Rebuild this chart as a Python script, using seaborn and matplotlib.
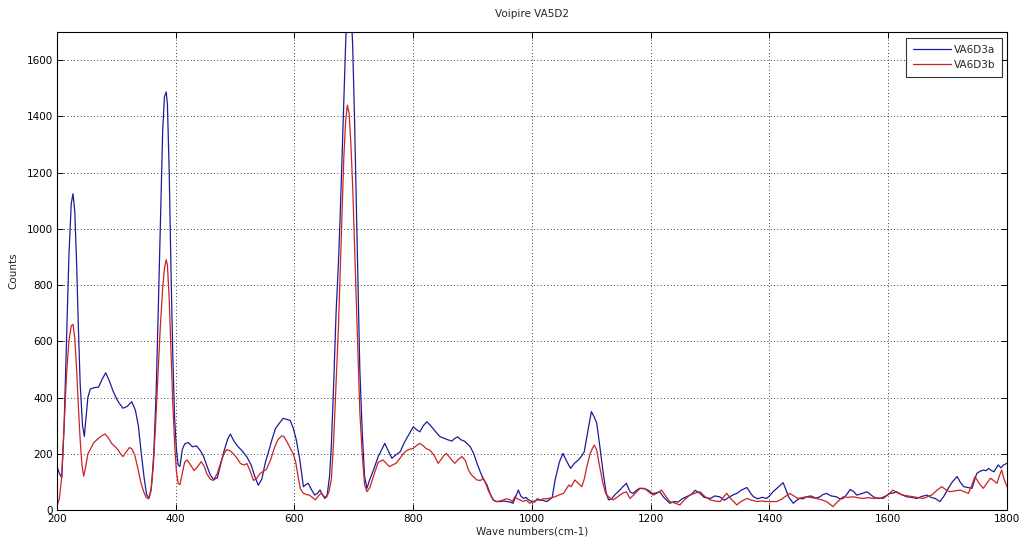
import numpy as np
import pandas as pd
import matplotlib
matplotlib.use("Agg")
import matplotlib.pyplot as plt
import seaborn as sns

# Raman spectra: wave number (cm-1) and counts for the two measurements
va6d3a_wave = [
    200, 204, 208, 212, 216, 220, 224, 227, 230, 233, 236, 239, 243, 246, 249, 252, 256, 262, 270, 276,
    282, 288, 295, 303, 311, 318, 326, 332, 337, 342, 347, 351, 355, 359, 363, 367, 371, 375, 378, 381,
    384, 386, 389, 392, 395, 398, 401, 404, 407, 411, 415, 421, 428, 435, 441, 446, 452, 458, 464, 470,
    476, 482, 488, 492, 498, 505, 512, 520, 527, 533, 539, 545, 551, 556, 562, 568, 575, 581, 587, 593,
    598, 603, 609, 615, 619, 623, 629, 634, 639, 643, 647, 651, 655, 659, 662, 666, 670, 674, 677, 680,
    683, 686, 689, 692, 695, 698, 701, 704, 707, 710, 714, 718, 722, 727, 733, 741, 747, 752, 758, 764,
    770, 778, 785, 793, 800, 806, 811, 817, 823, 830, 837, 845, 852, 858, 865, 870, 875, 880, 886, 890,
    896, 902, 907, 913, 918, 924, 930, 935, 940, 946, 952, 957, 963, 968, 973, 977, 981, 986, 990, 994,
    1000, 1004, 1009, 1013, 1019, 1025, 1030, 1034, 1039, 1046, 1052, 1058, 1065, 1071, 1078, 1083, 1088, 1094, 1100, 1105,
    1109, 1114, 1120, 1125, 1129, 1134, 1140, 1148, 1154, 1159, 1165, 1170, 1176, 1181, 1190, 1196, 1202, 1208, 1215, 1222,
    1232, 1240, 1246, 1253, 1260, 1268, 1275, 1283, 1290, 1300, 1308, 1316, 1324, 1333, 1340, 1345, 1352, 1362, 1368, 1373,
    1380, 1388, 1395, 1400, 1406, 1414, 1423, 1428, 1432, 1440, 1446, 1451, 1457, 1462, 1470, 1478, 1485, 1490, 1496, 1504,
    1513, 1518, 1524, 1530, 1536, 1542, 1547, 1555, 1564, 1570, 1575, 1580, 1586, 1594, 1603, 1608, 1614, 1622, 1631, 1640,
    1648, 1656, 1665, 1672, 1679, 1687, 1694, 1701, 1708, 1716, 1721, 1727, 1734, 1741, 1749, 1755, 1760, 1765, 1769, 1774,
    1778, 1785, 1790, 1794, 1800,
]
va6d3a_counts = [
    155, 130, 115, 300, 600, 900, 1090, 1125, 1060, 880, 650, 450, 300, 262, 330, 400, 430, 435, 437, 465,
    488, 460, 420, 385, 362, 368, 385, 355, 300, 200, 110, 55, 42, 80, 200, 420, 750, 1100, 1350, 1470,
    1487, 1440, 1200, 850, 550, 330, 220, 160, 155, 215, 235, 240, 225, 228, 212, 195, 160, 125, 108, 115,
    165, 215, 255, 270, 245, 225, 210, 188, 160, 120, 88, 110, 170, 205, 250, 290, 310, 326, 322, 318,
    290, 250, 178, 83, 90, 95, 71, 53, 60, 71, 55, 41, 53, 120, 225, 450, 700, 880, 1050, 1250,
    1450, 1650, 1820, 1860, 1800, 1650, 1400, 1100, 800, 500, 280, 120, 77, 110, 142, 190, 215, 237, 210, 184,
    195, 207, 240, 270, 296, 285, 278, 300, 314, 298, 280, 261, 255, 250, 245, 255, 260, 250, 245, 238,
    225, 200, 168, 135, 110, 90, 55, 35, 30, 30, 32, 30, 28, 24, 50, 71, 50, 41, 45, 36,
    30, 28, 40, 36, 34, 30, 38, 45, 107, 170, 201, 175, 148, 165, 178, 190, 207, 280, 350, 330,
    309, 230, 130, 60, 36, 40, 55, 71, 85, 95, 65, 59, 70, 77, 75, 70, 59, 60, 65, 45,
    24, 30, 28, 40, 47, 55, 70, 59, 45, 41, 50, 47, 35, 47, 55, 59, 70, 80, 60, 47,
    40, 45, 41, 50, 65, 80, 97, 70, 47, 24, 35, 41, 40, 47, 50, 42, 47, 55, 59, 50,
    47, 40, 41, 55, 73, 65, 53, 58, 65, 55, 47, 42, 41, 48, 59, 60, 65, 55, 47, 45,
    41, 48, 53, 45, 41, 30, 50, 77, 100, 119, 100, 83, 80, 77, 130, 138, 142, 140, 148, 140,
    136, 160, 150, 160, 166,
]

va6d3b_wave = [
    200, 204, 208, 212, 216, 220, 224, 227, 230, 233, 236, 239, 242, 245, 248, 252, 256, 262, 270, 276,
    281, 286, 292, 298, 303, 307, 311, 316, 322, 326, 331, 336, 341, 346, 350, 354, 358, 362, 366, 370,
    374, 378, 381, 384, 386, 389, 392, 395, 398, 401, 404, 407, 411, 415, 419, 425, 431, 437, 443, 448,
    452, 458, 463, 470, 476, 481, 486, 492, 497, 503, 509, 515, 520, 525, 531, 537, 542, 548, 553, 560,
    566, 572, 578, 582, 588, 594, 598, 602, 606, 610, 615, 620, 625, 630, 635, 640, 645, 650, 654, 658,
    662, 666, 670, 674, 677, 680, 683, 686, 689, 692, 695, 698, 701, 704, 707, 710, 714, 718, 722, 727,
    733, 741, 749, 755, 760, 765, 771, 778, 785, 792, 800, 806, 811, 817, 822, 828, 835, 842, 847, 852,
    856, 862, 866, 870, 876, 882, 888, 893, 898, 903, 907, 913, 918, 922, 926, 931, 935, 940, 946, 952,
    957, 963, 967, 971, 975, 980, 985, 990, 996, 1002, 1008, 1013, 1019, 1025, 1030, 1036, 1042, 1047, 1053, 1058,
    1062, 1066, 1072, 1078, 1084, 1088, 1093, 1098, 1102, 1105, 1109, 1114, 1119, 1124, 1130, 1137, 1143, 1148, 1153, 1159,
    1165, 1172, 1182, 1190, 1196, 1204, 1211, 1218, 1225, 1232, 1240, 1249, 1256, 1266, 1275, 1283, 1290, 1300, 1308, 1317,
    1322, 1328, 1335, 1345, 1352, 1362, 1370, 1379, 1387, 1395, 1404, 1412, 1420, 1428, 1434, 1441, 1448, 1455, 1462, 1470,
    1479, 1488, 1496, 1502, 1507, 1515, 1524, 1532, 1541, 1550, 1558, 1566, 1575, 1584, 1592, 1600, 1608, 1616, 1625, 1634,
    1642, 1650, 1659, 1666, 1673, 1682, 1690, 1697, 1704, 1712, 1721, 1728, 1735, 1741, 1746, 1753, 1760, 1766, 1772, 1778,
    1783, 1787, 1791, 1795, 1800,
]
va6d3b_counts = [
    15, 40, 120, 300, 480, 600, 655, 660, 610, 500, 370, 250, 160, 120, 150, 200, 215, 240, 255, 265,
    270, 258, 237, 225, 213, 200, 190, 205, 222, 218, 195, 150, 100, 65, 45, 40, 65, 150, 300, 480,
    650, 790, 860, 890, 870, 750, 560, 380, 240, 140, 95, 90, 130, 170, 178, 160, 140, 155, 172, 155,
    130, 110, 105, 130, 170, 200, 215, 210, 200, 185, 165, 160, 165, 140, 105, 115, 130, 138, 145, 180,
    220, 250, 263, 262, 240, 215, 200, 170, 120, 75, 59, 55, 53, 45, 36, 50, 60, 48, 45, 65,
    107, 250, 450, 650, 850, 1050, 1250, 1380, 1440, 1410, 1300, 1150, 950, 750, 550, 350, 200, 90, 65, 80,
    120, 170, 178, 165, 154, 160, 166, 185, 205, 215, 219, 230, 237, 228, 218, 213, 195, 166, 180, 195,
    201, 185, 175, 166, 180, 190, 175, 142, 125, 115, 107, 105, 113, 95, 71, 50, 35, 30, 32, 36,
    40, 36, 30, 47, 40, 36, 30, 35, 24, 30, 36, 34, 40, 40, 42, 45, 50, 55, 59, 75,
    89, 83, 107, 95, 83, 110, 160, 201, 220, 231, 213, 154, 100, 59, 45, 36, 45, 53, 60, 65,
    41, 55, 77, 77, 65, 53, 60, 71, 50, 30, 25, 18, 35, 53, 60, 65, 50, 36, 32, 30,
    45, 59, 40, 18, 30, 41, 35, 30, 32, 30, 30, 30, 38, 50, 59, 50, 41, 44, 47, 44,
    41, 36, 30, 20, 12, 30, 47, 45, 47, 43, 41, 44, 41, 43, 41, 55, 71, 60, 53, 50,
    47, 44, 41, 47, 53, 70, 83, 72, 65, 68, 71, 65, 59, 90, 119, 95, 77, 95, 113, 104,
    95, 120, 142, 110, 83,
]

series_names = ["VA6D3a", "VA6D3b"]
line_colors = ["#1c1c9a", "#cc2222"]
x_ticks = [200, 400, 600, 800, 1000, 1200, 1400, 1600, 1800]
y_ticks = [0, 200, 400, 600, 800, 1000, 1200, 1400, 1600]

df = pd.concat([
    pd.DataFrame({"wave": va6d3a_wave, "counts": va6d3a_counts, "series": series_names[0]}),
    pd.DataFrame({"wave": va6d3b_wave, "counts": va6d3b_counts, "series": series_names[1]}),
], ignore_index=True)

sns.set_theme(style="white")
plt.rcParams["font.family"] = ["DejaVu Sans"]

fig = plt.figure(figsize=(10.23, 5.43), dpi=100)
ax = fig.add_axes([57 / 1023, 1 - 510 / 543, 950 / 1023, 478 / 543])

sns.lineplot(data=df, x="wave", y="counts", hue="series", hue_order=series_names,
             palette=dict(zip(series_names, line_colors)), estimator=None, sort=False,
             linewidth=0.9, ax=ax)

ax.set_xlim(200, 1800)
ax.set_ylim(0, 1700)
ax.set_xticks(x_ticks)
ax.set_yticks(y_ticks)
ax.tick_params(direction="in", length=4, width=0.7, colors="black", labelsize=7.5,
               top=True, right=True, bottom=True, left=True, pad=3)
ax.grid(True, linestyle=(0, (1, 3)), color="black", linewidth=0.6)
for sp in ax.spines.values():
    sp.set_color("black")
    sp.set_linewidth(0.8)

ax.set_title("Voipire VA5D2", fontsize=7.5, pad=11)
ax.set_xlabel("Wave numbers(cm-1)", fontsize=7.5, labelpad=2)
ax.set_ylabel("Counts", fontsize=7.5, labelpad=6)

handles, labels = ax.get_legend_handles_labels()
leg = ax.legend(handles, labels, loc="upper right", bbox_to_anchor=(0.995, 0.988),
                fontsize=7.5, frameon=True, fancybox=False, edgecolor="black",
                handlelength=3.6, handletextpad=0.25, borderpad=0.7, labelspacing=0.45,
                borderaxespad=0.0)
leg.get_frame().set_linewidth(0.8)

fig.savefig("out.png", dpi=100, facecolor="white")
